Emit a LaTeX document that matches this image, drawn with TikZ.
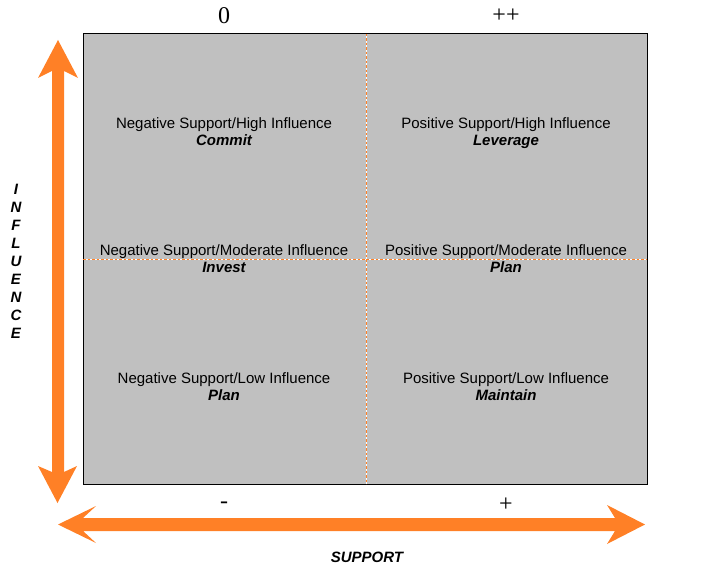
\documentclass[tikz,border=0pt]{standalone}
\usepackage{fontspec}
\setmainfont{Liberation Serif}
\newfontfamily\arialf{Liberation Sans}
\definecolor{arrorange}{RGB}{255,128,38}
\definecolor{boxgray}{RGB}{192,192,192}
\begin{document}
\begin{tikzpicture}[x=1pt,y=-1pt,
  quad/.style={font=\arialf\fontsize{15}{17}\selectfont, anchor=base, inner sep=0pt, text=black},
  quadb/.style={quad, font=\arialf\bfseries\itshape\fontsize{15}{17}\selectfont},
  axisnum/.style={font=\fontsize{24}{26}\selectfont, inner sep=0pt},
  axislabel/.style={font=\arialf\bfseries\itshape\fontsize{15}{18}\selectfont, inner sep=0pt, align=center},
  bigarrow/.style={fill=arrorange, draw=none},
  divider/.style={draw=white, line width=1pt},
  dividerdots/.style={draw=arrorange, line width=1pt, dash pattern=on 2.5pt off 2pt}
]
\useasboundingbox (0,0) rectangle (707,575);
% grid box
\draw[fill=boxgray, draw=black, line width=1pt] (83,34) rectangle (647,484);
\coordinate (hl) at (83,259); \coordinate (hr) at (647,259);
\coordinate (vt) at (366,34); \coordinate (vb) at (366,484);
\draw[divider] (hl) -- (hr);
\draw[divider] (vt) -- (vb);
\draw[dividerdots] (hl) -- (hr);
\draw[dividerdots] (vt) -- (vb);
% vertical double arrow
\fill[bigarrow] (58,40) -- (78,78) -- (64,71) -- (64,472) -- (77,466) -- (57.5,503)
  -- (38,466) -- (52,472) -- (52,71) -- (38,78) -- cycle;
% horizontal double arrow
\fill[bigarrow] (58,524.5) -- (96,506) -- (83,518) -- (615,518) -- (607,505) -- (645,524.5)
  -- (607,544) -- (615,531) -- (83,531) -- (96,543) -- cycle;
% axis numbers
\node[axisnum] (n0) at (224,16) {0};
\node[axisnum] (npp) at (506,16) {++};
\node[axisnum] (nm) at (224,505) {-};
\node[axisnum] (np) at (506,505) {+};
% axis labels
\node[axislabel] (sup) at (367,557) {SUPPORT};
\node[axislabel] (inf) at (16,261) {I\\N\\F\\L\\U\\E\\N\\C\\E};
% quadrant texts
\node[quad]  (q1a) at (224,128.5) {Negative Support/High Influence};
\node[quadb] (q1b) at (224,145.5) {Commit};
\node[quad]  (q2a) at (506,128.5) {Positive Support/High Influence};
\node[quadb] (q2b) at (506,145.5) {Leverage};
\node[quad]  (q3a) at (224,255.5) {Negative Support/Moderate Influence};
\node[quadb] (q3b) at (224,272.5) {Invest};
\node[quad]  (q4a) at (506,255.5) {Positive Support/Moderate Influence};
\node[quadb] (q4b) at (506,272.5) {Plan};
\node[quad]  (q5a) at (224,383.5) {Negative Support/Low Influence};
\node[quadb] (q5b) at (224,400.5) {Plan};
\node[quad]  (q6a) at (506,383.5) {Positive Support/Low Influence};
\node[quadb] (q6b) at (506,400.5) {Maintain};
\end{tikzpicture}
\end{document}
